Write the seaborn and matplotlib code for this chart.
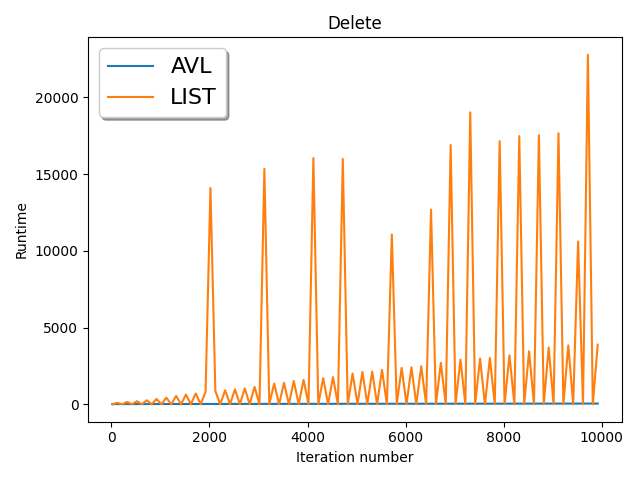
import matplotlib
matplotlib.use("Agg")
import matplotlib.pyplot as plt
import numpy as np
import pandas as pd
import seaborn as sns

# iteration numbers (step 100)
iterations = list(range(20, 10000, 100))

# LIST runtimes
list_runtime = [
    0, 90, 0, 150, 0, 200, 0, 260, 0, 345,
    0, 430, 0, 540, 0, 630, 0, 700, 0, 800,
    14100, 860, 0, 910, 0, 970, 0, 1040, 0, 1130,
    0, 15340, 0, 1350, 0, 1400, 0, 1520, 0, 1590,
    0, 16050, 0, 1700, 0, 1770, 0, 15990, 0, 2000,
    0, 2110, 0, 2130, 0, 2240, 0, 11070, 0, 2370,
    0, 2410, 0, 2480, 0, 12690, 0, 2700, 0, 16900,
    0, 2910, 0, 19030, 0, 2980, 0, 3020, 0, 17150,
    0, 3190, 0, 17480, 0, 3450, 0, 17540, 0, 3700,
    0, 17670, 0, 3840, 0, 10610, 0, 22780, 0, 3880,
]

# AVL runtimes (tiny, flat near zero)
avl_runtime = [
    10, 12, 11, 13, 12, 14, 13, 15, 14, 15,
    16, 15, 16, 17, 16, 17, 18, 17, 18, 19,
    18, 19, 20, 19, 20, 21, 20, 21, 22, 21,
    22, 23, 22, 23, 24, 23, 24, 25, 24, 25,
    26, 25, 26, 27, 26, 27, 28, 27, 28, 29,
    28, 29, 30, 29, 30, 31, 30, 31, 32, 31,
    32, 33, 32, 33, 34, 33, 34, 35, 34, 35,
    36, 35, 36, 37, 36, 37, 38, 37, 38, 39,
    38, 39, 40, 39, 40, 41, 40, 41, 42, 41,
    42, 43, 42, 43, 44, 43, 44, 45, 44, 45,
]

df = pd.DataFrame({"iter": iterations, "AVL": avl_runtime, "LIST": list_runtime})

fig, ax = plt.subplots(figsize=(6.4, 4.8), dpi=100)
sns.lineplot(data=df, x="iter", y="AVL", label="AVL", color="#1f77b4", ax=ax)
sns.lineplot(data=df, x="iter", y="LIST", label="LIST", color="#ff7f0e", ax=ax)
ax.set_title("Delete")
ax.set_xlabel("Iteration number")
ax.set_ylabel("Runtime")
ax.legend(loc="upper left", fontsize=16, shadow=True, fancybox=True)
fig.tight_layout()
fig.savefig("out.png")
